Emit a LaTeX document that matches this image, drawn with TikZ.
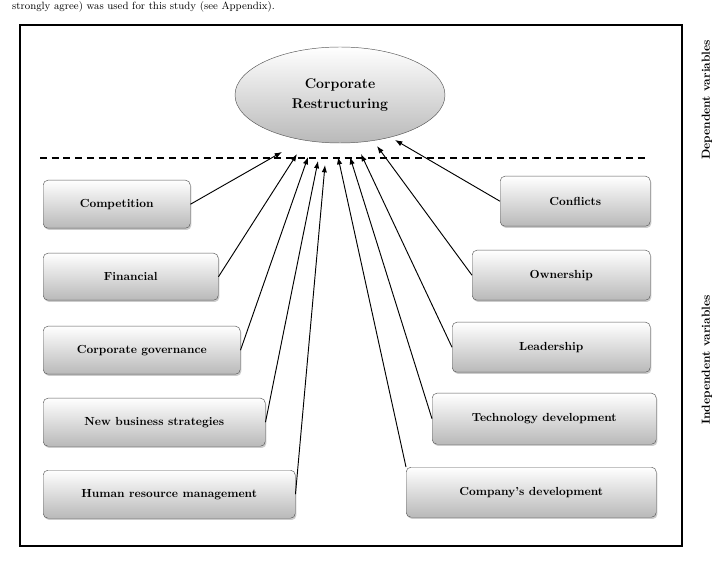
\documentclass[tikz,border=0pt]{standalone}
\usepackage{tikz}
\usetikzlibrary{arrows.meta, calc, shadows, positioning, shapes.geometric}
\tikzset{
	box/.style={draw=gray!70!black, rounded corners=4pt, top color=white, bottom color=gray!55,
		drop shadow={shadow xshift=1pt, shadow yshift=-1.5pt, opacity=0.4},
		font=\bfseries, anchor=north west, inner sep=0pt},
	link/.style={-{Latex[length=2.2mm,width=1.6mm]}, thick},
}
\begin{document}
\begin{tikzpicture}[x=0.03cm,y=-0.03cm]
	\useasboundingbox (0,0) rectangle (720,568);
	\node[anchor=west, font=\small] (top) at (8,7) {strongly agree) was used for this study (see Appendix).};
	
	\draw[line width=1.6pt] (20,25) rectangle (682,546);
	\node[draw=gray!70!black, ellipse, top color=white, bottom color=gray!55, minimum width=210*0.03cm,
		minimum height=96*0.03cm, align=center, font=\bfseries\large] (CR) at (340,95) {Corporate\\[3pt]Restructuring};
	\draw[very thick, dashed, dash pattern=on 6pt off 4pt] (40,158) -- (645,158);
	
	\node[rotate=90, font=\bfseries] (dep) at (707,100) {Dependent variables};
	\node[rotate=90, font=\bfseries] (ind) at (707,360) {Independent variables};
	
	% left column
	\node[box, minimum width=147*0.03cm, minimum height=48*0.03cm] (comp) at (43,180) {Competition};
	\node[box, minimum width=175*0.03cm, minimum height=47*0.03cm] (fin)  at (43,253) {Financial};
	\node[box, minimum width=197*0.03cm, minimum height=48*0.03cm] (gov)  at (43,326) {Corporate governance};
	\node[box, minimum width=222*0.03cm, minimum height=48*0.03cm] (nbs)  at (43,398) {New business strategies};
	\node[box, minimum width=252*0.03cm, minimum height=48*0.03cm] (hrm)  at (43,470) {Human resource management};
	
	% right column
	\node[box, minimum width=150*0.03cm, minimum height=50*0.03cm] (conf) at (500,176) {Conflicts};
	\node[box, minimum width=178*0.03cm, minimum height=50*0.03cm] (own)  at (472,250) {Ownership};
	\node[box, minimum width=198*0.03cm, minimum height=50*0.03cm] (lead) at (452,322) {Leadership};
	\node[box, minimum width=224*0.03cm, minimum height=51*0.03cm] (tech) at (432,393) {Technology development};
	\node[box, minimum width=250*0.03cm, minimum height=50*0.03cm] (cdev) at (406,467) {Company's development};
	
	\coordinate (e1) at (282,152);
	\coordinate (e2) at (297,154);
	\coordinate (e3) at (308,157);
	\coordinate (e4) at (318,161);
	\coordinate (e5) at (325,165);
	\coordinate (e6) at (338,157);
	\coordinate (e7) at (350,157);
	\coordinate (e8) at (361,154);
	\coordinate (e9) at (377,146);
	\coordinate (e10) at (395,140);
	
	\draw[link] (comp.east) -- (e1);
	\draw[link] (fin.east) -- (e2);
	\draw[link] (gov.east) -- (e3);
	\draw[link] (nbs.east) -- (e4);
	\draw[link] (hrm.east) -- (e5);
	\draw[link] (cdev.north west) -- (e6);
	\draw[link] (tech.west) -- (e7);
	\draw[link] (lead.west) -- (e8);
	\draw[link] (own.west) -- (e9);
	\draw[link] (conf.west) -- (e10);
\end{tikzpicture}
\end{document}
